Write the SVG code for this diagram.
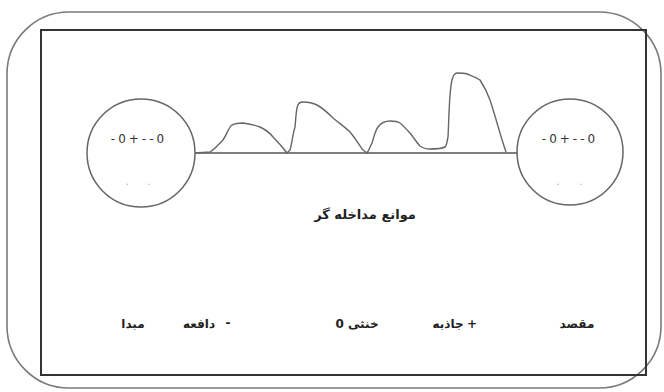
<svg xmlns="http://www.w3.org/2000/svg" width="664" height="392" viewBox="0 0 664 392">
<style>
.frame{fill:none;stroke:#7a7a7a;stroke-width:1.6}
.inner{fill:none;stroke:#333;stroke-width:2}
.circ{fill:#fff;stroke:#666;stroke-width:1.5}
.line{fill:none;stroke:#555;stroke-width:1.5}
.curve{fill:none;stroke:#666;stroke-width:1.4;stroke-linejoin:round}
.lbl{font-family:"DejaVu Sans","Noto Sans",sans-serif;font-size:12px;font-weight:bold;fill:#222;text-anchor:middle}
.charge{font-family:"DejaVu Sans","Liberation Sans",sans-serif;font-size:12px;fill:#333;text-anchor:middle;letter-spacing:3px}
.dots{font-family:"DejaVu Sans",sans-serif;font-size:10px;fill:#aaa;text-anchor:middle}
</style>
<rect class="frame" x="7" y="12" width="654" height="376" rx="62" ry="62"/>
<rect class="inner" x="41" y="30" width="605" height="345"/>
<g id="connectors">
<line class="line" x1="195" y1="153" x2="517" y2="153"/>
<path class="curve" d="M195,153 L210,152 C216,148 219,144 223,140 C227,134 229,127 232,125 C236,123 240,123 243,123 C250,124 255,125 260,127 C266,130 270,133 273,137 C279,143 284,149 287,153 L290,150 C292,143 293,133 295,127 C296,118 296,108 298,105 C299,102 301,102 303,102 C309,102 313,103 317,105 C323,108 328,113 333,118 C339,123 345,127 350,132 C355,138 360,146 363,150 L367,153 C369,150 370,147 372,143 C374,137 375,131 378,127 C381,123 385,121 390,121 C394,121 397,121 400,123 C404,126 407,130 410,133 C414,138 417,143 420,146 C424,149 427,149 430,149 C436,149 441,149 445,147 C447,145 447,141 448,137 C449,120 449,92 452,80 C453,76 455,73 457,73 C461,73 464,73 467,74 C472,76 476,77 480,80 C484,86 487,92 490,100 C494,112 497,123 500,133 C502,140 504,146 506,152"/>
</g>
<g id="origin">
<circle class="circ" cx="141" cy="153" r="54"/>
<text class="charge" x="139" y="143">-0+--0</text>
<text class="dots" x="127" y="185">.</text>
<text class="dots" x="149" y="185">.</text>
</g>
<g id="destination">
<circle class="circ" cx="570" cy="152" r="53"/>
<text class="charge" x="570" y="143">-0+--0</text>
<text class="dots" x="558" y="185">.</text>
<text class="dots" x="581" y="185">.</text>
</g>
<g id="obstacles-label">
<text class="lbl" x="365" y="219" style="font-size:13px" direction="rtl">موانع مداخله گر</text>
</g>
<g id="labels">
<text class="lbl" x="133" y="328" direction="rtl">مبدا</text>
<text class="lbl" x="199" y="328" direction="rtl">دافعه</text>
<text class="lbl" x="228" y="327">-</text>
<text class="lbl" x="357" y="328" direction="rtl">خنثی 0</text>
<text class="lbl" x="448" y="328" direction="rtl">جاذبه</text>
<text class="lbl" x="472" y="328">+</text>
<text class="lbl" x="577" y="328" direction="rtl">مقصد</text>
</g>
</svg>
